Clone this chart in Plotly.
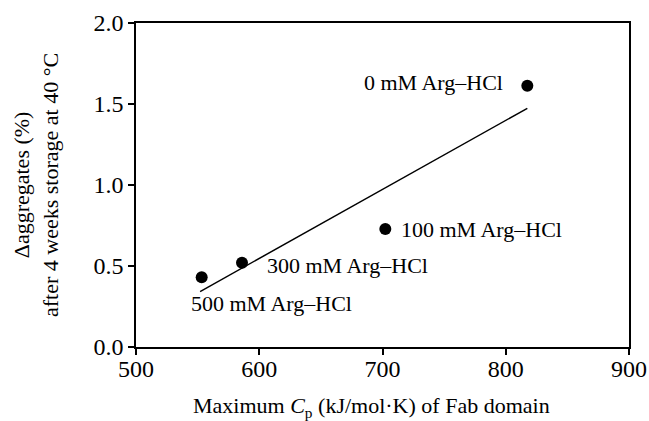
import numpy as np
import plotly.graph_objects as go

# Data
cp_max = [817.5, 702.3, 586.0, 553.3]          # Maximum Cp (kJ/mol·K)
d_aggr = [1.613, 0.728, 0.520, 0.430]          # Δaggregates (%)
labels = ["0 mM Arg–HCl", "100 mM Arg–HCl", "300 mM Arg–HCl", "500 mM Arg–HCl"]
fit_x = [552.0, 817.5]                          # extent of regression line

x_ticks = [500, 600, 700, 800, 900]
y_ticks = [0.0, 0.5, 1.0, 1.5, 2.0]

slope, intercept = np.polyfit(cp_max, d_aggr, 1)
fit_y = [slope * v + intercept for v in fit_x]

FONT = "Liberation Serif, Times New Roman, serif"

fig = go.Figure()
fig.add_trace(go.Scatter(x=fit_x, y=fit_y, mode="lines",
                         line=dict(color="black", width=1.5), showlegend=False,
                         hoverinfo="skip"))
fig.add_trace(go.Scatter(x=cp_max, y=d_aggr, mode="markers",
                         marker=dict(color="black", size=12), showlegend=False))

# label offsets (pixels) relative to each point
offsets = [(-22, 3, "right"), (14, 0, "left"), (23, -3, "left"), (-13, -26, "left")]
for xv, yv, txt, (dx, dy, anc) in zip(cp_max, d_aggr, labels, offsets):
    fig.add_annotation(x=xv, y=yv, text=txt, showarrow=False, xanchor=anc,
                       yanchor="middle", xshift=dx, yshift=dy,
                       font=dict(family=FONT, size=22, color="black"))

# axis titles as paper annotations for exact placement
fig.add_annotation(xref="paper", yref="paper", x=0.477, y=0, yshift=-60,
                   text="Maximum <i>C</i><sub>p</sub> (kJ/mol·K) of Fab domain",
                   showarrow=False, xanchor="center", yanchor="middle",
                   font=dict(family=FONT, size=22, color="black"))
fig.add_annotation(xref="paper", yref="paper", x=0, y=0.5, xshift=-100,
                   text="Δaggregates (%)<br>after 4 weeks storage at 40 °C",
                   showarrow=False, textangle=-90, xanchor="center", yanchor="middle",
                   font=dict(family=FONT, size=22, color="black"))

axis_common = dict(showline=True, linecolor="black", linewidth=1.5, mirror=True,
                   ticks="outside", ticklen=6, tickwidth=1.5, tickcolor="black",
                   showgrid=False, zeroline=False, automargin=False,
                   tickfont=dict(family=FONT, size=24, color="black"))

fig.update_xaxes(range=[500, 900], tickvals=x_ticks,
                 ticktext=[str(v) for v in x_ticks], ticklabelstandoff=-7,
                 **axis_common)
fig.update_yaxes(range=[0, 2.0], tickvals=y_ticks,
                 ticktext=[f"{v:.1f}" for v in y_ticks], **axis_common)

fig.update_layout(width=649, height=421,
                  margin=dict(l=136, r=20, t=23, b=74),
                  paper_bgcolor="white", plot_bgcolor="white",
                  font=dict(family=FONT, color="black"))

fig.write_html("out.html", config={"displayModeBar": False},
               post_script="document.body.style.margin='0';document.body.style.padding='0';")
